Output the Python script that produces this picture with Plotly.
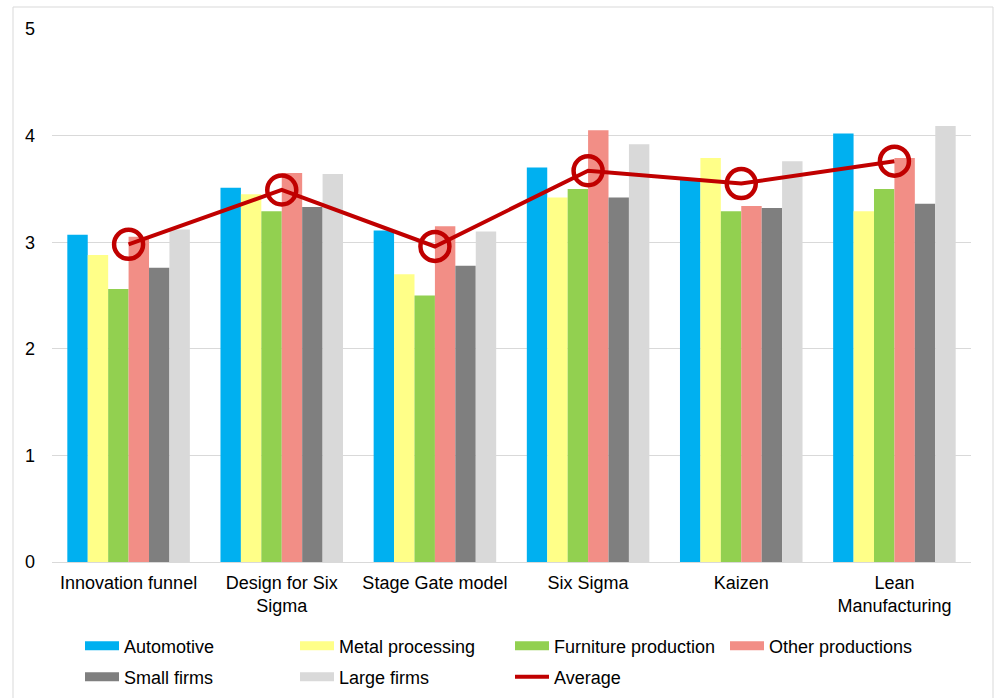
import plotly.graph_objects as go

# Methods and scores per respondent group
methods = ["Innovation funnel", "Design for Six<br>Sigma", "Stage Gate model",
           "Six Sigma", "Kaizen", "Lean<br>Manufacturing"]

automotive = [3.07, 3.51, 3.11, 3.70, 3.60, 4.02]
metal_processing = [2.88, 3.45, 2.70, 3.42, 3.79, 3.29]
furniture_production = [2.56, 3.29, 2.50, 3.50, 3.29, 3.50]
other_productions = [3.05, 3.65, 3.15, 4.05, 3.34, 3.79]
small_firms = [2.76, 3.33, 2.78, 3.42, 3.32, 3.36]
large_firms = [3.12, 3.64, 3.10, 3.92, 3.76, 4.09]
average = [2.98, 3.49, 2.96, 3.67, 3.55, 3.76]

y_ticks = [0, 1, 2, 3, 4, 5]

series = [
    ("Automotive", automotive, "#00B0F0", "legend"),
    ("Metal processing", metal_processing, "#FFFF88", "legend"),
    ("Furniture production", furniture_production, "#92D050", "legend"),
    ("Other productions", other_productions, "#F28E86", "legend"),
    ("Small firms", small_firms, "#7F7F7F", "legend2"),
    ("Large firms", large_firms, "#D9D9D9", "legend2"),
]
avg_color = "#C00000"

W, H = 994, 698
L, R, T, B = 52, 23, 29, 136
pw, ph = W - L - R, H - T - B


def px_x(p):
    return (p - L) / pw


def px_y(p):
    return (H - B - p) / ph


fig = go.Figure()

for name, vals, color, _ in series:
    fig.add_trace(go.Bar(x=methods, y=vals, name=name, marker_color=color,
                         marker_line_width=0, showlegend=False))

fig.add_trace(go.Scatter(
    x=methods, y=average, name="Average", mode="lines+markers",
    line=dict(color=avg_color, width=4),
    marker=dict(symbol="circle-open", size=29, color=avg_color,
                line=dict(width=4.5, color=avg_color)),
    showlegend=False))

# Legend entries drawn as wide swatches
for name, _, color, lg in series:
    fig.add_trace(go.Scatter(x=[None], y=[None], mode="lines", name=name,
                             line=dict(color=color, width=9), legend=lg))
fig.add_trace(go.Scatter(x=[None], y=[None], mode="lines", name="Average",
                         line=dict(color=avg_color, width=4), legend="legend2"))

font = dict(family="Liberation Sans, Arial, sans-serif", size=18, color="#000000")
legend_common = dict(orientation="h", xanchor="left", yanchor="middle",
                     xref="container", yref="container", x=80 / W,
                     font=font, bgcolor="rgba(0,0,0,0)",
                     entrywidth=166, entrywidthmode="pixels", itemwidth=34)

fig.update_layout(
    width=W, height=H,
    margin=dict(l=L, r=R, t=T, b=B, autoexpand=False),
    paper_bgcolor="white", plot_bgcolor="white",
    font=font,
    barmode="group", bargap=0.2, bargroupgap=0,
    xaxis=dict(showline=True, linecolor="#D9D9D9", linewidth=1,
               showgrid=False, ticks="", tickfont=font, automargin=False,
               ticklabelstandoff=4),
    yaxis=dict(range=[0, 5], tickvals=y_ticks, showgrid=True,
               gridcolor="#D9D9D9", gridwidth=1, zeroline=False,
               showline=False, ticks="", tickfont=font, ticklabelstandoff=16,
               automargin=False),
    legend=dict(y=1 - 646 / H, **legend_common),
    legend2=dict(y=1 - 677 / H, **legend_common),
    shapes=[dict(type="rect", xref="paper", yref="paper",
                 x0=px_x(13), x1=px_x(993), y0=px_y(720), y1=px_y(7),
                 line=dict(color="#D9D9D9", width=1), layer="below")],
)

fig.write_html("out.html")
